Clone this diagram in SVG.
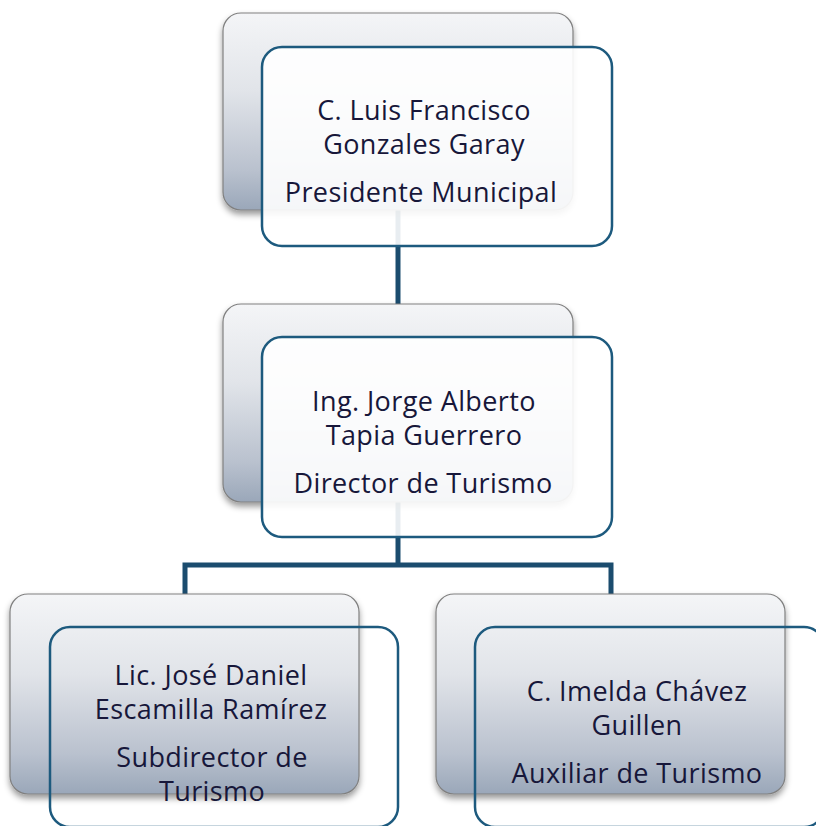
<svg xmlns="http://www.w3.org/2000/svg" width="816" height="826" viewBox="0 0 816 826">
<defs>
<linearGradient id="backGrad" x1="0" y1="0" x2="0" y2="1">
<stop offset="0" stop-color="#F4F5F7"/>
<stop offset="0.4" stop-color="#E1E4E9"/>
<stop offset="0.8" stop-color="#B9C1CE"/>
<stop offset="1" stop-color="#9AA7B9"/>
</linearGradient>
<filter id="shadow" x="-10%" y="-10%" width="120%" height="130%">
<feDropShadow dx="0" dy="4" stdDeviation="3" flood-color="#000" flood-opacity="0.4"/>
</filter>
</defs>
<style>
.back{fill:url(#backGrad);stroke:#808080;stroke-width:1.2;filter:url(#shadow)}
.front{fill:#FFFFFF;fill-opacity:0.9;stroke:#1D5A7E;stroke-width:2.5}
.frontClear{fill:none;stroke:#1D5A7E;stroke-width:2.5}
.conn{fill:none;stroke:#1B4C6E;stroke-width:5;stroke-linejoin:miter}
text{font-family:"Open Sans","Noto Sans","Liberation Sans",sans-serif;font-size:27px;letter-spacing:0.4px;fill:#17173A;text-anchor:middle}
</style>
<g id="connectors">
<path class="conn" d="M398,210 V304"/>
<path class="conn" d="M398,502 V565"/>
<path class="conn" d="M185,594 V565 H611 V594"/>
</g>
<g id="node-presidente">
<rect class="back" x="223" y="13" width="350" height="197" rx="18"/>
<rect class="front" x="262" y="47" width="350" height="199" rx="20"/>
<text x="424" y="120">C. Luis Francisco</text>
<text x="424" y="154">Gonzales Garay</text>
<text x="421" y="202">Presidente Municipal</text>
</g>
<g id="node-director">
<rect class="back" x="223" y="304" width="350" height="198" rx="18"/>
<rect class="front" x="262" y="337" width="350" height="200" rx="20"/>
<text x="424" y="411">Ing. Jorge Alberto</text>
<text x="424" y="445">Tapia Guerrero</text>
<text x="423" y="493">Director de Turismo</text>
</g>
<g id="node-subdirector">
<rect class="back" x="10" y="594" width="349" height="200" rx="18"/>
<rect class="frontClear" x="50" y="627" width="348" height="200" rx="20"/>
<text x="211" y="685">Lic. José Daniel</text>
<text x="211" y="719">Escamilla Ramírez</text>
<text x="212" y="767">Subdirector de</text>
<text x="212" y="801">Turismo</text>
</g>
<g id="node-auxiliar">
<rect class="back" x="436" y="594" width="349" height="200" rx="18"/>
<rect class="frontClear" x="475" y="627" width="349" height="200" rx="20"/>
<text x="637" y="701">C. Imelda Chávez</text>
<text x="637" y="735">Guillen</text>
<text x="637" y="783">Auxiliar de Turismo</text>
</g>
</svg>
